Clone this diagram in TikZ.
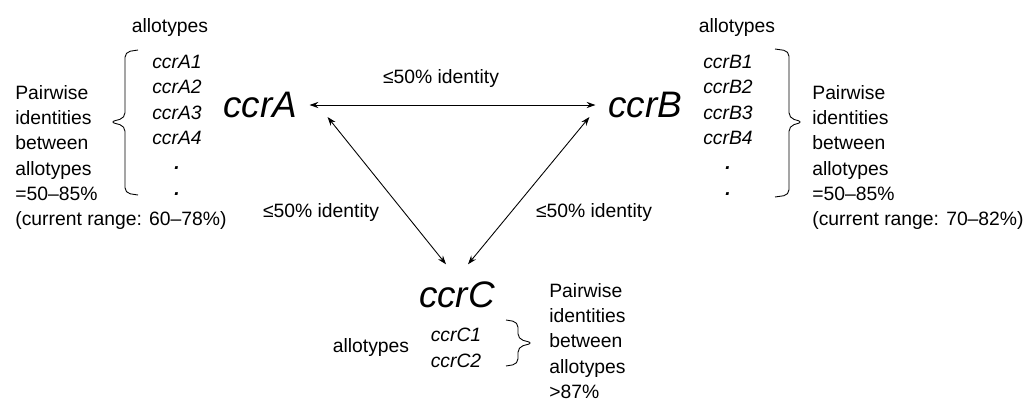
\documentclass[tikz,border=0pt]{standalone}
\usepackage{fontspec}
\setmainfont{Liberation Sans}
\usepackage{tikz}
\usetikzlibrary{
arrows.meta,
positioning,
calc
}

\begin{document}
\begin{tikzpicture}[x=0.02cm, y=-0.02cm,
  gene/.style={font=\fontsize{21}{24}\selectfont\itshape, inner sep=7pt},
  allele/.style={font=\fontsize{11}{14.4}\selectfont\itshape, align=center, inner sep=0pt},
  note/.style={font=\fontsize{11}{14.4}\selectfont, align=left, inner sep=0pt},
  idlabel/.style={font=\fontsize{11}{13}\selectfont, inner sep=0pt},
  arrow/.style={{Stealth[length=5pt,width=3.5pt]}-{Stealth[length=5pt,width=3.5pt]}, line width=0.5pt},
  bracket/.style={line width=0.5pt, rounded corners=3pt}
]
\useasboundingbox (0,0) rectangle (1024,400);

%% Genes
\node[gene] (ccrA) at (260,105) {ccrA};
\node[gene] (ccrB) at (645,105) {ccrB};
\node[gene] (ccrC) at (457,295) {ccrC};

%% Identities between genes
\draw[arrow] (ccrA.east) -- (ccrB.west);
\draw[arrow] ([shift={(18,12)}]ccrA.east) -- ([shift={(-11,-5)}]ccrC.north);
\draw[arrow] ([shift={(-6,12)}]ccrB.west) -- ([shift={(11,-5)}]ccrC.north);
\node[idlabel] (idAB) at (441,78) {≤50\% identity};
\node[idlabel] (idAC) at (321,212) {≤50\% identity};
\node[idlabel] (idBC) at (594,212) {≤50\% identity};

%% Allotypes of ccrA
\node[idlabel, anchor=base] (alA) at (170,32) {allotypes};
\node[allele, anchor=north] (listA) at (177,55)
  {ccrA1\\ccrA2\\ccrA3\\ccrA4\\\textbf{.}\\\textbf{.}};
\draw[bracket] (138,50) -- (125,52) -- (125,118) -- (110,122) -- (125,126)
  -- (125,193) -- (138,195);
\node[note, anchor=north west] (noteA) at (15,85)
  {Pairwise\\identities\\between\\allotypes\\=50–85\%\\(current range: 60–78\%)};

%% Allotypes of ccrB
\node[idlabel, anchor=base] (alB) at (737,32) {allotypes};
\node[allele, anchor=north] (listB) at (728,55)
  {ccrB1\\ccrB2\\ccrB3\\ccrB4\\\textbf{.}\\\textbf{.}};
\draw[bracket] (775,49) -- (789,51) -- (789,118) -- (803,122) -- (789,126)
  -- (789,195) -- (775,197);
\node[note, anchor=north west] (noteB) at (812,85)
  {Pairwise\\identities\\between\\allotypes\\=50–85\%\\(current range: 70–82\%)};

%% Allotypes of ccrC
\node[idlabel, anchor=base] (alC) at (371,352) {allotypes};
\node[allele, anchor=north] (listC) at (456,328) {ccrC1\\ccrC2};
\draw[bracket] (506,320) -- (518,322) -- (518,339) -- (533,343) -- (518,347)
  -- (518,364) -- (506,366);
\node[note, anchor=north west] (noteC) at (549,283)
  {Pairwise\\identities\\between\\allotypes\\>87\%};

\end{tikzpicture}
\end{document}
